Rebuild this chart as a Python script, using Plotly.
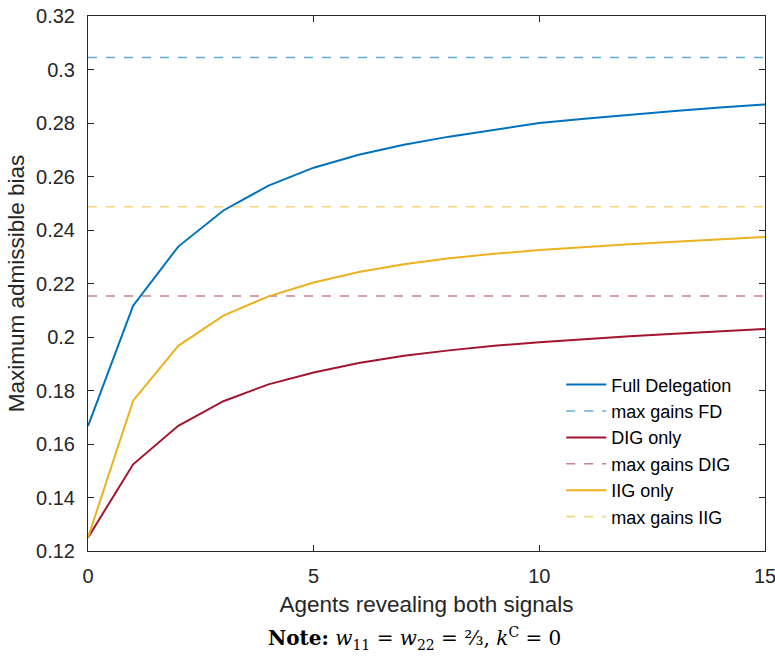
import plotly.graph_objects as go

agents = list(range(16))
full_delegation = [0.1667, 0.2117, 0.2338, 0.2473, 0.2566, 0.2633, 0.2681, 0.2719,
                   0.2749, 0.2774, 0.2800, 0.2816, 0.2831, 0.2845, 0.2858, 0.2869]
iig_only = [0.125, 0.1762, 0.1967, 0.2080, 0.2152, 0.2204, 0.2243, 0.2272,
            0.2294, 0.2311, 0.2325, 0.2337, 0.2347, 0.2356, 0.2365, 0.2374]
dig_only = [0.125, 0.1524, 0.1668, 0.1760, 0.1823, 0.1867, 0.1903, 0.1930,
            0.1950, 0.1967, 0.1980, 0.1992, 0.2003, 0.2012, 0.2021, 0.2030]
max_gains_fd = 0.3045
max_gains_dig = 0.2153
max_gains_iig = 0.2487

BLUE = "#0072BD"
RED = "#A2142F"
YELLOW = "#EDB120"

fig = go.Figure()
x_line = [agents[0], agents[-1]]

def add(name, x, y, color, dash, opacity, group):
    fig.add_trace(go.Scatter(x=x, y=y, mode="lines", name=name, opacity=opacity,
                             legendgroup=group,
                             line=dict(color=color, width=2 if dash == "solid" else 1.6, dash=dash)))

add("Full Delegation", agents, full_delegation, BLUE, "solid", 1, "a")
add("max gains FD", x_line, [max_gains_fd] * 2, BLUE, "dash", 0.6, "b")
add("DIG only", agents, dig_only, RED, "solid", 1, "c")
add("max gains DIG", x_line, [max_gains_dig] * 2, RED, "dash", 0.55, "d")
add("IIG only", agents, iig_only, YELLOW, "solid", 1, "e")
add("max gains IIG", x_line, [max_gains_iig] * 2, YELLOW, "dash", 0.55, "f")

axis_common = dict(showline=True, linecolor="#262626", linewidth=1, mirror="ticks",
                   ticks="inside", ticklen=6, tickcolor="#262626", showgrid=False,
                   zeroline=False, automargin=False, ticklabeloverflow="allow",
                   tickfont=dict(size=20, color="#262626"))

fig.update_layout(
    width=775, height=658,
    margin=dict(l=88, r=10, t=16, b=107),
    paper_bgcolor="white", plot_bgcolor="white",
    font=dict(family="Liberation Sans, Arial, sans-serif", color="#262626"),
    xaxis=dict(range=[0, 15], tickvals=[0, 5, 10, 15], ticklabelstandoff=7,
               title=dict(text="Agents revealing both signals", font=dict(size=22.5), standoff=10),
               **axis_common),
    yaxis=dict(range=[0.12, 0.32], dtick=0.02, tick0=0.12, ticklabelstandoff=8,
               title=dict(text="Maximum admissible bias", font=dict(size=22.5), standoff=5),
               **axis_common),
    legend=dict(x=0.699, y=0.345, xanchor="left", yanchor="top",
                font=dict(size=18, color="#000000"), bgcolor="rgba(255,255,255,0)",
                tracegroupgap=0, itemwidth=40),
    showlegend=True,
)

fig.add_annotation(
    text="<b>Note:</b> <i>w</i><sub>11</sub> = <i>w</i><sub>22</sub> = ⅔, <i>k</i><sup>C</sup> = 0",
    xref="paper", yref="paper", x=0.483, y=-0.163, xanchor="center", yanchor="middle",
    showarrow=False, font=dict(family="DejaVu Serif, Liberation Serif, serif", size=20, color="#000000"))

fig.write_html("out.html", config={"displayModeBar": False},
               post_script="document.body.style.margin='0';")
